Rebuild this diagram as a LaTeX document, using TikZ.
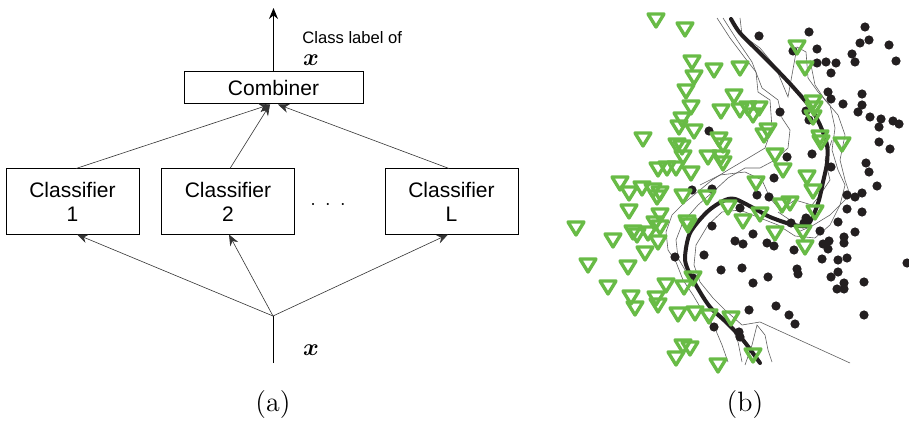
\documentclass[tikz,border=0pt]{standalone}
\usepackage{amsmath}
\usepackage{fontspec}
\usepackage{tikz}
\usetikzlibrary{arrows.meta}
\newfontfamily\helv{Liberation Sans}
\definecolor{trigreen}{RGB}{104,187,70}
\definecolor{dotblack}{RGB}{35,31,32}
\definecolor{meshgrey}{RGB}{95,95,95}

\begin{document}
\begin{tikzpicture}[x=0.5pt,y=-0.5pt,
  box/.style={draw,line width=0.5pt,minimum width=66.5pt,minimum height=32.5pt,inner sep=0pt,align=center,font=\helv\fontsize{10.5}{12}\selectfont},
  feed/.style={line width=0.3pt,draw=black!80,-{Stealth[length=5.5pt,width=4.5pt]}},
  tri/.style={draw=trigreen,line width=1.7pt,line join=round},
  boundary/.style={draw=dotblack,line width=2pt,line cap=round},
  thinb/.style={draw=meshgrey,line width=0.3pt}]
\useasboundingbox (0,0) rectangle (909,422);
% boxes
\node[box,minimum width=89.5pt,minimum height=16pt] (comb) at (273.5,88) {Combiner};
\node[box] (cl1) at (72.5,201.5) {Classifier\\1};
\node[box] (cl2) at (228,201.5) {Classifier\\2};
\node[box] (clL) at (451.5,201.5) {Classifier\\L};
\node (dots) at (328,205) {$\cdot$\hspace{4.7pt}$\cdot$\hspace{4.7pt}$\cdot$};
% output
\coordinate (out) at (273.5,8);
\draw[line width=0.5pt,-{Stealth[length=5.5pt,width=4.5pt]}] (comb.north) -- (out);
\node[anchor=west,inner sep=0pt,font=\helv\fontsize{8.3}{10}\selectfont] (outlab) at (302,38) {Class label of};
\node (outx) at (311,60) {\fontsize{12.5}{14}\selectfont$\boldsymbol{x}$};
% input
\coordinate (inp) at (273,363);
\coordinate (split) at (273,316);
\draw[line width=0.5pt] (inp) -- (split);
\node (inx) at (311,350) {\fontsize{12.5}{14}\selectfont$\boldsymbol{x}$};
\draw[feed] (split) -- ([xshift=2.25pt]cl1.south);
\draw[feed] (split) -- ([xshift=0.5pt]cl2.south);
\draw[feed] (split) -- ([xshift=-1.75pt]clL.south);
% to combiner
\draw[feed] ([xshift=1.75pt]cl1.north) -- ([xshift=-1.75pt]comb.south);
\draw[feed] ([xshift=1pt]cl2.north) -- ([xshift=-1.75pt]comb.south);
\draw[feed] ([xshift=-1.25pt]clL.north) -- ([xshift=2.25pt]comb.south);
% captions
\node (capa) at (273,405) {\fontsize{14}{16}\selectfont (a)};
\node (capb) at (745,405) {\fontsize{14}{16}\selectfont (b)};
% thin boundaries
\draw[thinb] (717,18) -- (730,38) -- (745,58) -- (756,72) -- (758,92) -- (770,100) -- (772,128) -- (765,148) -- (745,160) -- (728,170) -- (712,180) -- (700,190) -- (684,203) -- (672,215) -- (666,232) -- (668,250) -- (676,262) -- (683,280) -- (693,295) -- (703,312) -- (714,326) -- (722,345) -- (728,362);
\draw[thinb] (723,18) -- (737,40) -- (752,62) -- (762,88) -- (778,100) -- (782,118) -- (790,130) -- (788,148) -- (775,160) -- (760,168) -- (745,168) -- (728,178) -- (715,190) -- (698,205) -- (683,222) -- (676,240) -- (678,258) -- (688,275) -- (700,293) -- (712,308) -- (730,322) -- (738,342) -- (742,362);
\draw[thinb] (740,18) -- (742,35) -- (760,48) -- (775,66) -- (788,97) -- (797,47) -- (806,52) -- (808,78) -- (818,92) -- (830,105) -- (835,128) -- (832,150) -- (838,170) -- (845,185) -- (840,205) -- (830,225) -- (815,238) -- (795,236) -- (778,225) -- (760,218) -- (740,210) -- (722,212) -- (708,225) -- (696,245) -- (694,265) -- (700,282) -- (713,298) -- (725,310) -- (742,325) -- (760,322) -- (850,363);
\draw[thinb] (810,60) -- (815,85) -- (825,100) -- (838,115) -- (845,135) -- (840,160) -- (845,180) -- (850,195) -- (830,215) -- (812,226) -- (798,232) -- (790,220) -- (778,212);
\draw[thinb] (700,185) -- (720,175) -- (745,172) -- (762,180) -- (770,198) -- (780,210) -- (795,200) -- (812,205) -- (820,195) -- (830,180) -- (825,160) -- (832,140);
\draw[thinb] (745,365) -- (752,345) -- (757,325) -- (765,335) -- (768,350) -- (772,362);
% thick boundary
\draw[boundary] plot[smooth] coordinates {(731,19) (740,33) (760,53) (777,70) (793,87) (810,107) (820,125) (827,145) (827,163) (823,182) (819,200) (813,216) (806,226) (790,224) (770,217) (757,210) (735,199) (723,201) (707,212) (690,233) (685,257) (688,270) (697,287) (710,307) (727,323) (743,340) (760,363)};
% class dots
\foreach \px/\py in {759/36,809/32,865/27,860/43,869/40,889/45,793/51,817/49,852/54,817/63,826/62,836/63,855/62,896/61,831/73,828/92,831/99,862/94,843/104,862/105,858/112,870/117,881/119,893/121,899/124,879/127,780/112,806/111,809/120,709/131,879/142,890/149,787/157,812/154,831/167,866/163,869/172,774/178,877/186,847/195,855/197,862/193,692/190,712/189,757/195,769/197,740/208,712/226,791/223,806/218,804/223,847/209,862/212,838/222,820/231,855/232,844/237,844/243,829/241,823/244,828/249,753/234,735/241,743/244,767/243,774/246,794/250,675/257,704/255,721/270,742/268,797/269,798/274,822/259,838/260,847/258,838/272,831/277,907/263,768/277,753/283,864/282,844/283,837/289,844/289,693/278,749/310,776/306,789/315,795/324,864/315,714/327,739/332,740/337}
  \fill[dotblack] (\px,\py) circle (2.3pt);
% class triangles
\foreach \px/\py in {656/20,685/29,692/62,694/77,714/70,740/68,686/91,734/96,691/107,721/111,740/110,748/108,759/108,753/115,797/47,805/68,813/102,814/108,813/117,682/119,679/127,694/131,643/139,768/130,764/135,719/139,723/145,677/145,682/147,820/137,821/142,842/144,683/157,708/157,721/157,723/163,775/155,658/169,667/168,676/168,691/173,783/170,807/177,620/183,642/188,653/190,660/193,756/183,813/191,629/193,683/196,707/197,657/197,629/211,660/215,655/223,660/227,687/222,688/225,728/207,743/221,760/214,782/205,790/203,815/212,576/228,613/240,633/232,637/235,648/233,658/242,645/253,775/233,803/232,805/247,588/265,628/267,608/287,693/278,666/285,684/287,631/297,635/308,656/298,658/305,678/314,695/313,709/316,731/318,683/346,690/348,676/358,718/365,753/355}
  \draw[tri] (\px-8,\py-6) -- (\px+8,\py-6) -- (\px,\py+7) -- cycle;
\end{tikzpicture}
\end{document}
